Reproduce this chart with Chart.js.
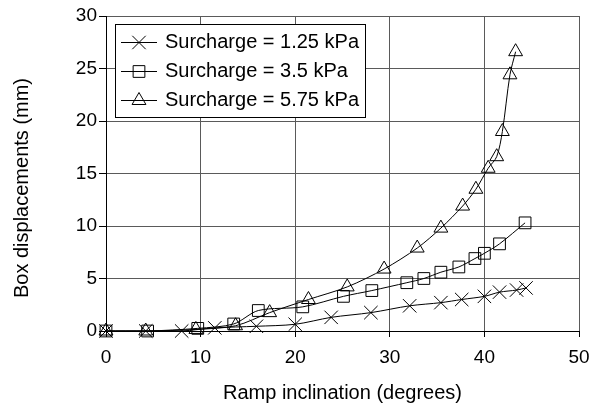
<!DOCTYPE html>
<html>
<head>
<meta charset="utf-8">
<script src="https://cdn.jsdelivr.net/npm/chart.js@4.4.0/dist/chart.umd.min.js"></script>
<style>
  html, body { margin: 0; padding: 0; background: #fff; }
  #wrap { width: 592px; height: 405px; }
</style>
</head>
<body>
<div id="wrap"><canvas id="chart" width="592" height="405"></canvas></div>
<script>
// ==================== Data ====================

const seriesLabels = ['Surcharge = 1.25 kPa', 'Surcharge = 3.5 kPa', 'Surcharge = 5.75 kPa'];

// Surcharge = 1.25 kPa
const inclination125 = [0, 4.2, 8.0, 11.5, 15.9, 20.0, 23.8, 28.0, 32.1, 35.4, 37.6, 40.0, 41.6, 43.4, 44.4];
const displacement125 = [0, 0, 0, 0.3, 0.45, 0.64, 1.3, 1.75, 2.4, 2.7, 3.0, 3.3, 3.7, 3.9, 4.1];

// Surcharge = 3.5 kPa
const inclination35 = [0, 4.4, 9.7, 13.5, 16.1, 20.8, 25.1, 28.1, 31.8, 33.6, 35.4, 37.3, 39.0, 40.0, 41.6, 44.3];
const displacement35 = [0, 0, 0.25, 0.67, 1.95, 2.3, 3.3, 3.85, 4.6, 5.0, 5.6, 6.1, 6.9, 7.4, 8.3, 10.3];

// Surcharge = 5.75 kPa
const inclination575 = [0, 4.2, 9.5, 13.7, 17.3, 21.4, 25.5, 29.4, 32.9, 35.4, 37.7, 39.1, 40.4, 41.3, 41.9, 42.7, 43.3];
const displacement575 = [0, 0, 0.15, 0.5, 1.75, 3.0, 4.2, 5.9, 7.9, 9.8, 11.9, 13.5, 15.5, 16.6, 19.0, 24.4, 26.6];

const xTicks = [0, 10, 20, 30, 40, 50];
const yTicks = [0, 5, 10, 15, 20, 25, 30];

const xTitle = 'Ramp inclination (degrees)';
const yTitle = 'Box displacements (mm)';

// ==================== Helpers ====================

const FONT = 'Liberation Sans, Arial, Helvetica, sans-serif';
const markerStyles = [
    { pointStyle: 'crossRot', radius: 9.5 },
    { pointStyle: 'rect', radius: 8.3 },
    { pointStyle: 'triangle', radius: 8 }
];

function toPoints(xs, ys) {
    return xs.map((x, i) => ({ x: x, y: ys[i] }));
}

function makeDataset(i, xs, ys) {
    return {
        label: seriesLabels[i],
        data: toPoints(xs, ys),
        borderColor: '#000',
        borderWidth: 1,
        backgroundColor: 'transparent',
        pointStyle: markerStyles[i].pointStyle,
        pointRadius: markerStyles[i].radius,
        pointBorderWidth: 1,
        pointBorderColor: '#000',
        pointBackgroundColor: 'transparent',
        tension: 0.3,
        fill: false,
        clip: false
    };
}

/**
 * Y axis title, drawn a little below the plot centre like the original
 */
const yTitlePlugin = {
    id: 'yTitle',
    afterDraw(chart) {
        const ctx = chart.ctx;
        ctx.save();
        ctx.fillStyle = '#000';
        ctx.font = '20px ' + FONT;
        ctx.textAlign = 'center';
        ctx.textBaseline = 'middle';
        ctx.translate(22, 188);
        ctx.rotate(-Math.PI / 2);
        ctx.fillText(yTitle, 0, 0);
        ctx.restore();
    }
};

/**
 * Boxed legend inside the plot area, line sample plus marker per series
 */
const boxLegendPlugin = {
    id: 'boxLegend',
    afterDraw(chart) {
        const ctx = chart.ctx;
        const box = { left: 115.5, top: 24.5, right: 365.5, bottom: 117.5 };
        const rows = [42, 71, 100];

        ctx.save();
        ctx.fillStyle = '#fff';
        ctx.strokeStyle = '#000';
        ctx.lineWidth = 1;
        ctx.fillRect(box.left, box.top, box.right - box.left, box.bottom - box.top);
        ctx.strokeRect(box.left, box.top, box.right - box.left, box.bottom - box.top);

        ctx.font = '20px ' + FONT;
        ctx.textAlign = 'left';
        ctx.textBaseline = 'middle';

        chart.data.datasets.forEach((ds, i) => {
            const y = rows[i] + 0.5;
            ctx.beginPath();
            ctx.moveTo(121, y);
            ctx.lineTo(157, y);
            ctx.strokeStyle = '#000';
            ctx.lineWidth = 1;
            ctx.stroke();

            ctx.fillStyle = 'transparent';
            Chart.helpers.drawPoint(ctx, {
                pointStyle: markerStyles[i].pointStyle,
                radius: markerStyles[i].radius,
                rotation: 0,
                borderWidth: 1
            }, 139, y);

            ctx.fillStyle = '#000';
            ctx.fillText(ds.label, 165, rows[i]);
        });
        ctx.restore();
    }
};

// ==================== Chart ====================

const ctx = document.getElementById('chart');

new Chart(ctx, {
    type: 'line',
    data: {
        datasets: [
            makeDataset(0, inclination125, displacement125),
            makeDataset(1, inclination35, displacement35),
            makeDataset(2, inclination575, displacement575)
        ]
    },
    options: {
        responsive: false,
        animation: false,
        devicePixelRatio: 1,
        layout: {
            padding: { left: 0, right: 13, top: 16, bottom: 0 }
        },
        plugins: {
            legend: { display: false },
            tooltip: { enabled: false }
        },
        scales: {
            x: {
                type: 'linear',
                min: xTicks[0],
                max: xTicks[xTicks.length - 1],
                afterBuildTicks: scale => { scale.ticks = xTicks.map(v => ({ value: v })); },
                afterFit: scale => {
                    scale.height = 74;
                    scale.paddingLeft = 0;
                    scale.paddingRight = 0;
                },
                grid: {
                    color: '#5a5a5a',
                    lineWidth: 1,
                    tickLength: 6,
                    tickColor: '#000'
                },
                border: { color: '#000', width: 1 },
                ticks: {
                    color: '#000',
                    padding: 9,
                    maxRotation: 0,
                    font: { family: FONT, size: 19 }
                },
                title: {
                    display: true,
                    text: xTitle,
                    color: '#000',
                    padding: { top: 0, bottom: 0 },
                    font: { family: FONT, size: 20 }
                }
            },
            y: {
                type: 'linear',
                min: yTicks[0],
                max: yTicks[yTicks.length - 1],
                afterBuildTicks: scale => { scale.ticks = yTicks.map(v => ({ value: v })); },
                afterFit: scale => {
                    scale.width = 106;
                    scale.paddingTop = 0;
                    scale.paddingBottom = 0;
                },
                grid: {
                    color: '#5a5a5a',
                    lineWidth: 1,
                    tickLength: 7,
                    tickColor: '#000'
                },
                border: { color: '#000', width: 1 },
                ticks: {
                    color: '#000',
                    padding: 2,
                    font: { family: FONT, size: 19 }
                }
            }
        }
    },
    plugins: [yTitlePlugin, boxLegendPlugin]
});
</script>
</body>
</html>
